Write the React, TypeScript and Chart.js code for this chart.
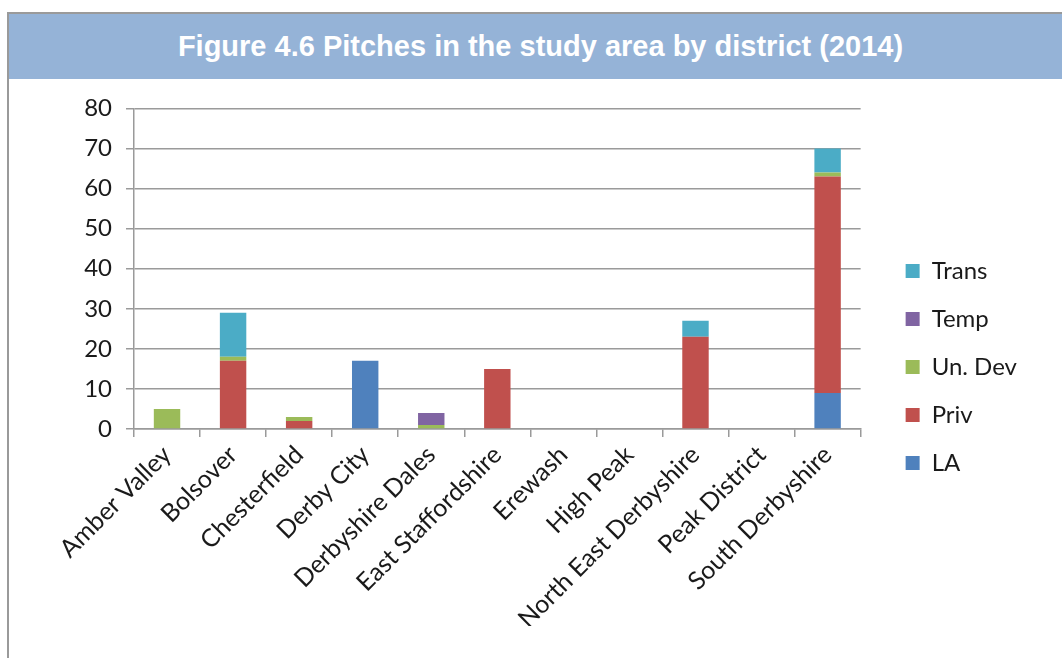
import React, { useEffect, useRef } from "react";
import { Chart, registerables } from "chart.js";

Chart.register(...registerables);

const TITLE = "Figure 4.6 Pitches in the study area by district (2014)";

const categories = [
  "Amber Valley",
  "Bolsover",
  "Chesterfield",
  "Derby City",
  "Derbyshire Dales",
  "East Staffordshire",
  "Erewash",
  "High Peak",
  "North East Derbyshire",
  "Peak District",
  "South Derbyshire",
];

const seriesLA = [0, 0, 0, 17, 0, 0, 0, 0, 0, 0, 9];
const seriesPriv = [0, 17, 2, 0, 0, 15, 0, 0, 23, 0, 54];
const seriesUnDev = [5, 1, 1, 0, 1, 0, 0, 0, 0, 0, 1];
const seriesTemp = [0, 0, 0, 0, 3, 0, 0, 0, 0, 0, 0];
const seriesTrans = [0, 11, 0, 0, 0, 0, 0, 0, 4, 0, 6];

const yTicks = [0, 10, 20, 30, 40, 50, 60, 70, 80];

const FONT = "Lato";
const TEXT = "#1a1a1a";
const GRID = "#9a9a9a";

export default function App() {
  const ref = useRef<HTMLCanvasElement | null>(null);

  useEffect(() => {
    if (!ref.current) return;
    const chart = new Chart(ref.current, {
      type: "bar",
      data: {
        labels: categories,
        datasets: [
          { label: "LA", data: seriesLA, backgroundColor: "#4F81BD" },
          { label: "Priv", data: seriesPriv, backgroundColor: "#C0504D" },
          { label: "Un. Dev", data: seriesUnDev, backgroundColor: "#9BBB59" },
          { label: "Temp", data: seriesTemp, backgroundColor: "#8064A2" },
          { label: "Trans", data: seriesTrans, backgroundColor: "#4BACC6" },
        ],
      },
      options: {
        animation: false,
        responsive: false,
        maintainAspectRatio: false,
        layout: { padding: { top: 28, left: 0, right: 35, bottom: 32 } },
        datasets: {
          bar: { barPercentage: 0.4, categoryPercentage: 1, borderWidth: 0 },
        },
        plugins: {
          title: { display: false },
          tooltip: { enabled: false },
          legend: {
            display: true,
            position: "right",
            reverse: true,
            labels: {
              boxWidth: 14,
              boxHeight: 14,
              padding: 24,
              color: TEXT,
              font: { family: FONT, size: 24 },
            },
          },
        },
        scales: {
          x: {
            stacked: true,
            grid: {
              display: true,
              offset: true,
              drawOnChartArea: false,
              drawTicks: true,
              tickLength: 8,
              color: GRID,
              lineWidth: 1.5,
            },
            border: { display: true, color: GRID, width: 1.5 },
            ticks: {
              autoSkip: false,
              minRotation: 45,
              maxRotation: 45,
              color: TEXT,
              font: { family: FONT, size: 25 },
            },
            afterFit: (s: any) => {
              s.height = 197;
            },
          },
          y: {
            stacked: true,
            min: 0,
            max: 80,
            afterBuildTicks: (s: any) => {
              s.ticks = yTicks.map((v) => ({ value: v }));
            },
            grid: {
              color: GRID,
              lineWidth: 1.5,
              drawTicks: true,
              tickLength: 8,
            },
            border: { display: true, color: GRID, width: 1.5 },
            ticks: {
              padding: 14,
              color: TEXT,
              font: { family: FONT, size: 24 },
            },
            afterFit: (s: any) => {
              s.width = 126;
            },
          },
          gap: {
            type: "linear",
            position: "right",
            display: true,
            grid: { display: false, drawTicks: false },
            border: { display: false },
            ticks: { display: false },
            afterFit: (s: any) => {
              s.width = 21;
            },
          },
        },
      },
    });
    return () => chart.destroy();
  }, []);

  return (
    <div
      style={{
        position: "absolute",
        left: 0,
        top: 0,
        width: 1062,
        height: 658,
        overflow: "hidden",
        background: "#fff",
      }}
    >
      <div
        style={{
          position: "absolute",
          left: 7,
          top: 12,
          width: 1100,
          height: 700,
          borderLeft: "2px solid #9a9a9a",
          borderTop: "2px solid #9a9a9a",
        }}
      />
      <div
        style={{
          position: "absolute",
          left: 9,
          top: 14,
          width: 1053,
          height: 65,
          background: "#95B3D7",
          color: "#fff",
          fontFamily: "'Liberation Sans', Arial, sans-serif",
          fontWeight: "bold",
          fontSize: 29,
          lineHeight: "34px",
          textAlign: "center",
          whiteSpace: "nowrap",
          boxSizing: "border-box",
          paddingTop: 15,
          paddingLeft: 10,
        }}
      >
        {TITLE}
      </div>
      <canvas
        ref={ref}
        width={1054}
        height={578}
        style={{ position: "absolute", left: 8, top: 80, width: 1054, height: 578 }}
      />
    </div>
  );
}
